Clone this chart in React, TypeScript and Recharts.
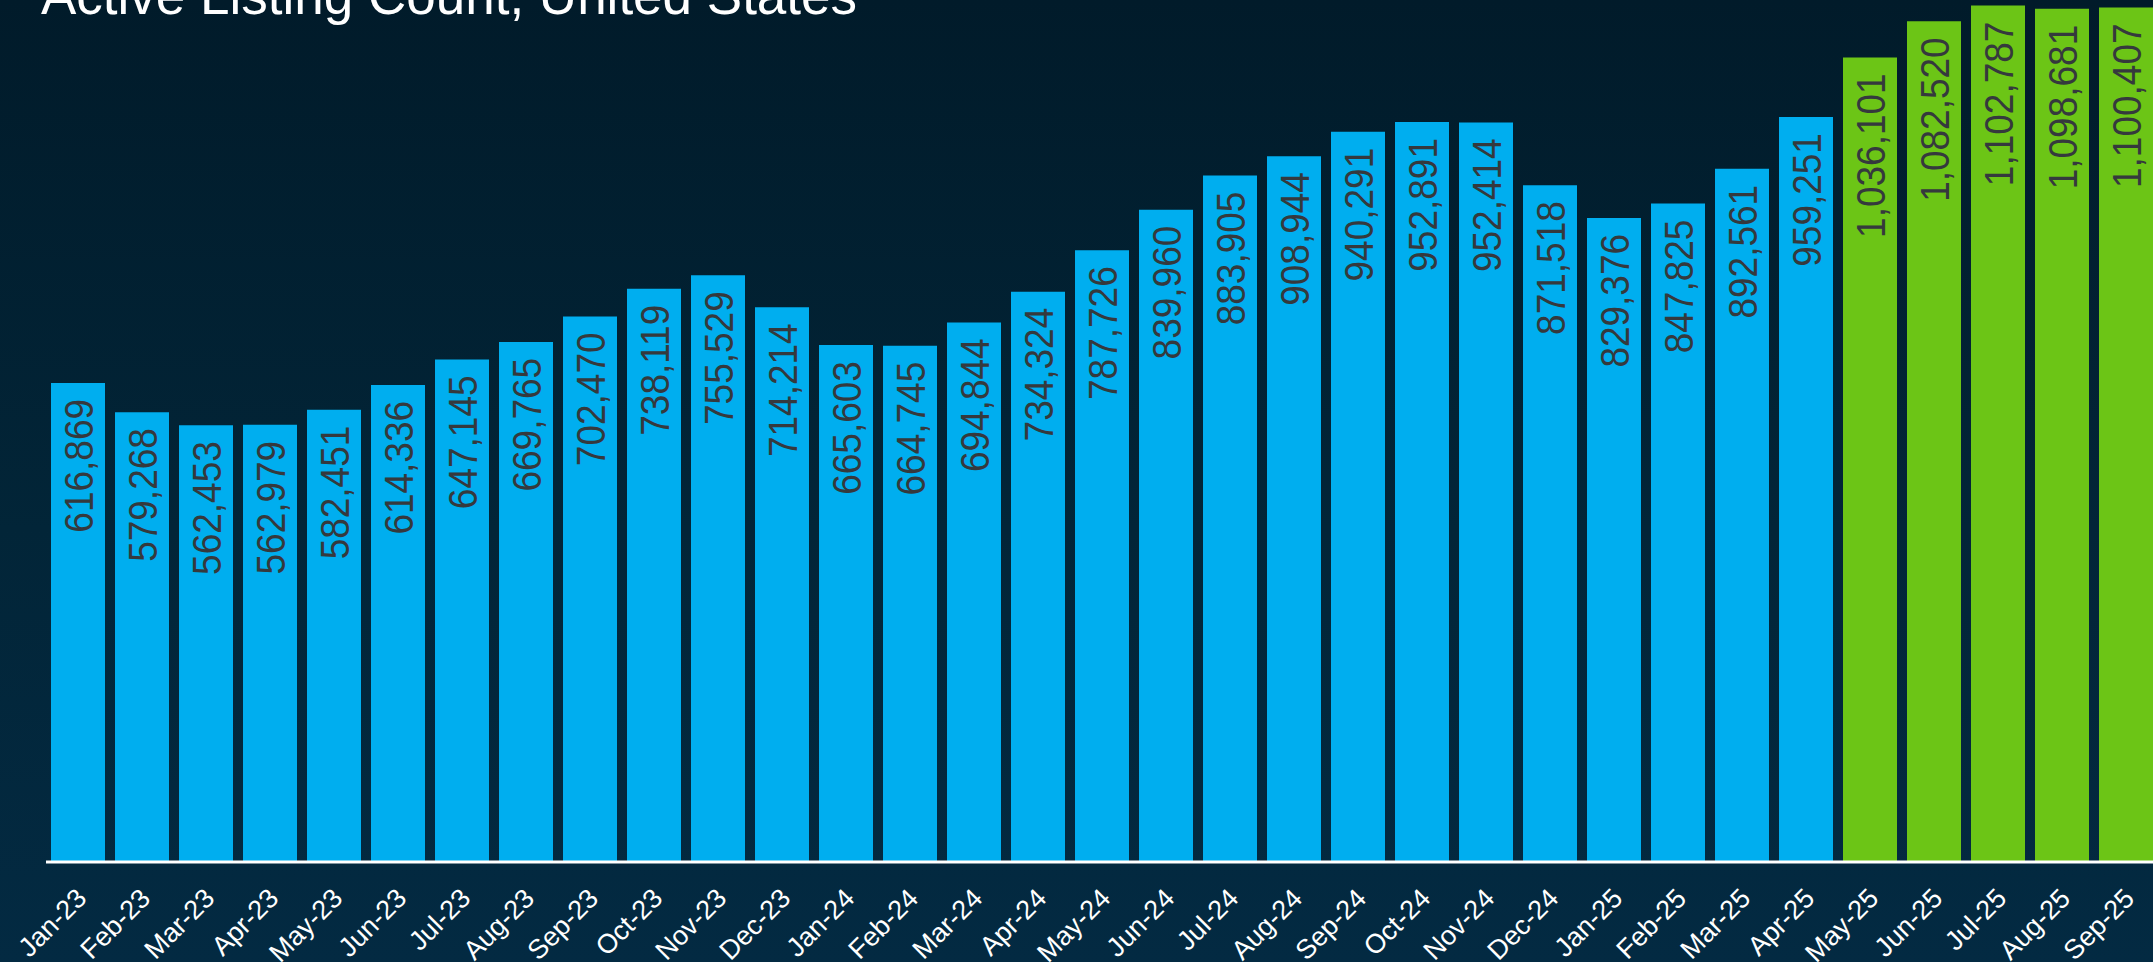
import React from 'react';
import { BarChart, Bar, XAxis, YAxis, Cell, LabelList } from 'recharts';

const months = [
  'Jan-23', 'Feb-23', 'Mar-23', 'Apr-23', 'May-23', 'Jun-23', 'Jul-23', 'Aug-23', 'Sep-23', 'Oct-23', 'Nov-23', 'Dec-23',
  'Jan-24', 'Feb-24', 'Mar-24', 'Apr-24', 'May-24', 'Jun-24', 'Jul-24', 'Aug-24', 'Sep-24', 'Oct-24', 'Nov-24', 'Dec-24',
  'Jan-25', 'Feb-25', 'Mar-25', 'Apr-25', 'May-25', 'Jun-25', 'Jul-25', 'Aug-25', 'Sep-25',
];

const listings = [
  616869, 579268, 562453, 562979, 582451, 614336, 647145, 669765, 702470, 738119, 755529, 714214,
  665603, 664745, 694844, 734324, 787726, 839960, 883905, 908944, 940291, 952891, 952414, 871518,
  829376, 847825, 892561, 959251, 1036101, 1082520, 1102787, 1098681, 1100407,
];

// months drawn in green (latest period)
const highlightMonths = ['May-25', 'Jun-25', 'Jul-25', 'Aug-25', 'Sep-25'];

const data = months.map((month, i) => ({ month, count: listings[i] }));

const BLUE = '#00AEEF';
const GREEN = '#6CC516';
const FONT = '"Liberation Sans", Arial, sans-serif';

const ValueLabel = (props: any) => {
  const { x, y, width, value } = props;
  const cx = x + width / 2;
  return (
    <text
      transform={`translate(${cx + 14.5}, ${y + 16}) rotate(-90) scale(1, 1.1)`}
      textAnchor="end"
      fill="#35393d"
      fontSize={37}
      fontFamily={FONT}
    >
      {Number(value).toLocaleString('en-US')}
    </text>
  );
};

const MonthTick = (props: any) => {
  const { x, y, payload } = props;
  const tx = x + 10;
  const ty = y + 30;
  return (
    <text
      x={tx}
      y={ty}
      transform={`rotate(-45, ${tx}, ${ty})`}
      textAnchor="end"
      fill="#ffffff"
      fontSize={27}
      fontFamily={FONT}
    >
      {payload.value}
    </text>
  );
};

export default function App() {
  return (
    <div
      style={{
        position: 'absolute',
        left: 0,
        top: 0,
        width: 2153,
        height: 962,
        overflow: 'hidden',
        background: 'linear-gradient(180deg, #011b2a 0%, #022538 55%, #032a42 100%)',
      }}
    >
      <div
        style={{
          position: 'absolute',
          left: 41,
          top: -31,
          fontFamily: FONT,
          fontSize: 53,
          lineHeight: '53px',
          color: '#ffffff',
          whiteSpace: 'nowrap',
        }}
      >
        Active Listing Count, United States
      </div>
      <BarChart
        width={2160}
        height={962}
        data={data}
        margin={{ top: 0, right: 2, bottom: 0, left: 46 }}
        barCategoryGap={10}
      >
        <XAxis
          dataKey="month"
          interval={0}
          tick={<MonthTick />}
          tickLine={false}
          axisLine={{ stroke: '#ffffff', strokeWidth: 3 }}
          height={100}
        />
        <YAxis hide domain={[0, 1110000]} />
        <Bar dataKey="count" barSize={54} isAnimationActive={false}>
          {data.map((d) => (
            <Cell key={d.month} fill={highlightMonths.includes(d.month) ? GREEN : BLUE} />
          ))}
          <LabelList dataKey="count" content={<ValueLabel />} />
        </Bar>
      </BarChart>
    </div>
  );
}
